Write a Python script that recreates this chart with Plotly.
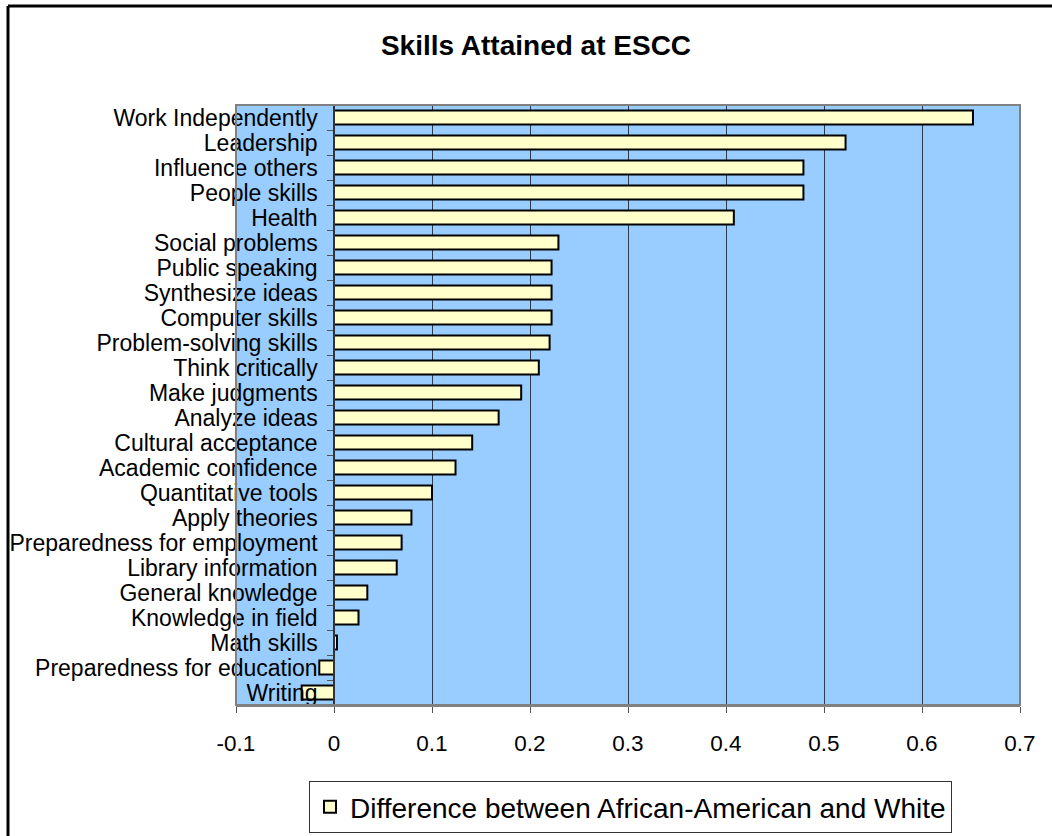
import plotly.graph_objects as go

categories = [
    "Work Independently", "Leadership", "Influence others", "People skills", "Health",
    "Social problems", "Public speaking", "Synthesize ideas", "Computer skills",
    "Problem-solving skills", "Think critically", "Make judgments", "Analyze ideas",
    "Cultural acceptance", "Academic confidence", "Quantitative tools", "Apply theories",
    "Preparedness for employment", "Library information", "General knowledge",
    "Knowledge in field", "Math skills", "Preparedness for education", "Writing",
]
difference = [
    0.652, 0.522, 0.479, 0.479, 0.408,
    0.229, 0.222, 0.222, 0.222,
    0.220, 0.209, 0.191, 0.168,
    0.141, 0.124, 0.100, 0.079,
    0.069, 0.064, 0.034,
    0.025, 0.003, -0.015, -0.033,
]
series_name = "Difference between African-American and White"
x_tick_vals = [-0.1, 0, 0.1, 0.2, 0.3, 0.4, 0.5, 0.6, 0.7]
x_tick_text = ["-0.1", "0", "0.1", "0.2", "0.3", "0.4", "0.5", "0.6", "0.7"]

FONT = "Liberation Sans, Arial, sans-serif"

fig = go.Figure()
fig.add_trace(go.Bar(
    y=categories, x=difference, orientation="h", name=series_name,
    marker=dict(color="#FFFFCC", line=dict(color="#000000", width=2)),
    showlegend=True,
))

fig.update_layout(
    width=1052, height=836,
    margin=dict(l=236, r=32, t=105, b=131, autoexpand=False),
    paper_bgcolor="#FFFFFF",
    plot_bgcolor="#99CCFF",
    bargap=0.44,
    font=dict(family=FONT, color="#000000", size=22),
    title=dict(text="<b>Skills Attained at ESCC</b>", x=536/1052, xanchor="center",
               y=1-45/836, yanchor="middle", font=dict(family=FONT, size=28, color="#000")),
    xaxis=dict(range=[-0.1, 0.7], tickvals=x_tick_vals, ticktext=x_tick_text,
               showgrid=True, gridcolor="#2b3b4d", gridwidth=1.2, automargin=False,
               zeroline=False, ticks="outside", ticklen=6, tickcolor="#555",
               showline=True, linecolor="#808080", linewidth=2,
               ticklabelstandoff=11, tickfont=dict(size=22.5)),
    yaxis=dict(autorange="reversed", anchor="free", position=0.125, automargin=False,
               tickmode="array", tickvals=categories, ticktext=categories,
               ticks="outside", ticklen=6, tickcolor="#555", tickson="boundaries",
               showline=True, linecolor="#333", linewidth=1.5, showgrid=False,
               ticklabelstandoff=11, tickfont=dict(size=23)),
    legend=dict(x=(309-236)/784, xanchor="left", y=(705-833)/600, yanchor="bottom",
                bgcolor="#FFFFFF", bordercolor="#333", borderwidth=1,
                font=dict(size=28), orientation="h"),
    shapes=[
        dict(type="rect", xref="paper", yref="paper", x0=0, x1=1, y0=0, y1=1,
             line=dict(color="#808080", width=2), layer="above"),
        dict(type="line", xref="paper", yref="paper", x0=(8-236)/784, x1=1.06,
             y0=(705-6)/600, y1=(705-6)/600, line=dict(color="#000", width=3)),
        dict(type="line", xref="paper", yref="paper", x0=(8-236)/784, x1=(8-236)/784,
             y0=(705-6)/600, y1=-0.25, line=dict(color="#000", width=3)),
    ],
)

fig.write_html("out.html")
